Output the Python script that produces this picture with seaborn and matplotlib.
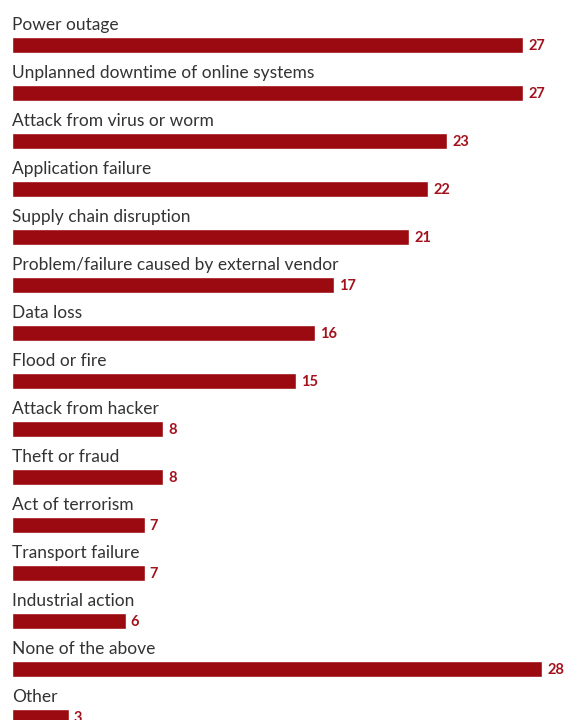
import matplotlib
matplotlib.use("Agg")
import matplotlib.pyplot as plt
import seaborn as sns
import pandas as pd

categories = [
    "Power outage",
    "Unplanned downtime of online systems",
    "Attack from virus or worm",
    "Application failure",
    "Supply chain disruption",
    "Problem/failure caused by external vendor",
    "Data loss",
    "Flood or fire",
    "Attack from hacker",
    "Theft or fraud",
    "Act of terrorism",
    "Transport failure",
    "Industrial action",
    "None of the above",
    "Other",
]
values = [27, 27, 23, 22, 21, 17, 16, 15, 8, 8, 7, 7, 6, 28, 3]

BAR = "#9b0a10"
VALUE = "#a3121c"
TEXT = "#333333"

sns.set_theme(style="white")
plt.rcParams["font.family"] = ["Lato", "DejaVu Sans"]

df = pd.DataFrame({"category": categories, "value": values})

W, H = 566, 720
fig = plt.figure(figsize=(W / 100, H / 100), dpi=100)
ax = fig.add_axes([0, 0, 1, 1])

pitch = 48.0
sns.barplot(data=df, x="value", y="category", orient="h", color=BAR,
            saturation=1, width=16 / pitch, ax=ax, order=categories)

px = 530 / 28.0
ax.set_xlim(-12 / px, (W - 12) / px)
ax.set_ylim((H - 45) / pitch, -45 / pitch)
ax.axis("off")

for i, (cat, v) in enumerate(zip(categories, values)):
    ax.text(0, i - 15 / pitch, cat, ha="left", va="baseline",
            fontsize=12.5, color=TEXT)
    ax.text(v + 5 / px, i + 1 / pitch, str(v), ha="left", va="center",
            fontsize=10.5, fontweight="bold", color=VALUE)

fig.savefig("out.png", dpi=100)
